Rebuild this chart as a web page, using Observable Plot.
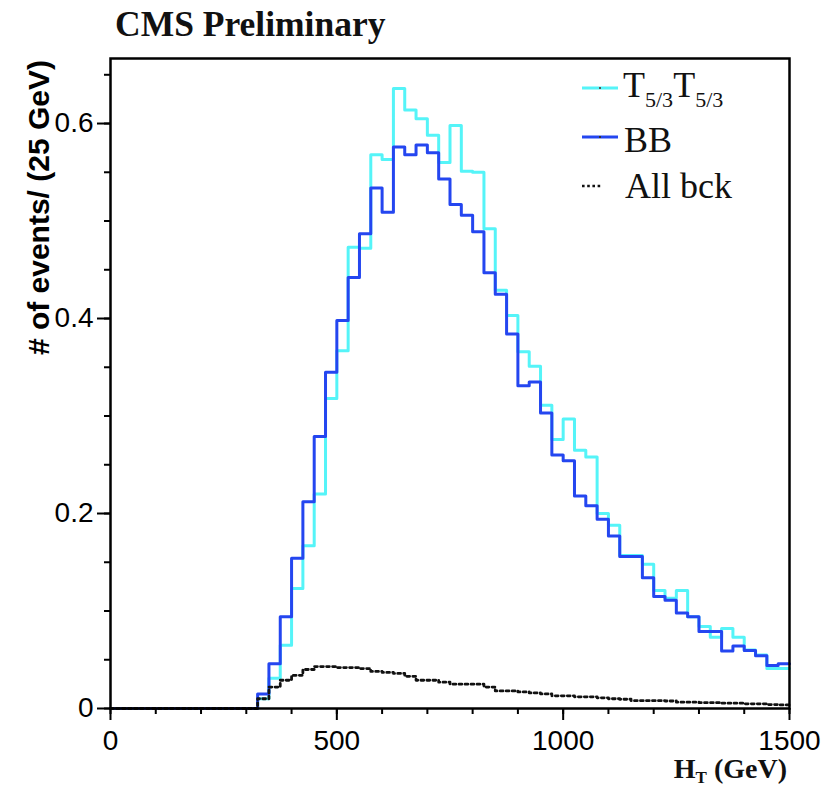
<!DOCTYPE html>
<html>
<head>
<meta charset="utf-8">
<script src="https://cdn.jsdelivr.net/npm/d3@7"></script>
<script src="https://cdn.jsdelivr.net/npm/@observablehq/plot@0.6"></script>
<style>
  html, body { margin: 0; padding: 0; background: #fff; }
  #chart svg { display: block; }
</style>
</head>
<body>
<div id="chart"></div>
<script>
// ---- data (HT histograms, 25 GeV bins from 0 to 1500 GeV) ----
const binLow = d3.range(0, 1500, 25);
const xMax = 1500;

const t53 = [
  0,0,0,0,0,0,0,0,0,0,0,0,0,
  0.010, 0.031, 0.065, 0.123, 0.167, 0.220, 0.318, 0.367, 0.473, 0.472,
  0.568, 0.563, 0.636, 0.614, 0.605, 0.588, 0.560, 0.598, 0.551, 0.550,
  0.492, 0.429, 0.403, 0.366, 0.351, 0.311, 0.276, 0.297, 0.265, 0.258,
  0.200, 0.188, 0.157, 0.157, 0.148, 0.121, 0.113, 0.121, 0.094, 0.084,
  0.073, 0.082, 0.073, 0.060, 0.055, 0.041, 0.041
];
const bb = [
  0,0,0,0,0,0,0,0,0,0,0,0,0,
  0.015, 0.046, 0.094, 0.154, 0.212, 0.279, 0.345, 0.398, 0.442, 0.487,
  0.534, 0.509, 0.576, 0.568, 0.578, 0.570, 0.543, 0.517, 0.506, 0.489,
  0.447, 0.425, 0.384, 0.331, 0.335, 0.303, 0.260, 0.254, 0.218, 0.208,
  0.194, 0.177, 0.156, 0.156, 0.134, 0.115, 0.111, 0.098, 0.094, 0.079,
  0.079, 0.059, 0.064, 0.0595, 0.054, 0.044, 0.046
];
const bck = [
  0,0,0,0,0,0,0,0,0,0,0,0,0,
  0.010, 0.022, 0.029, 0.034, 0.040, 0.043, 0.043, 0.042, 0.042, 0.041,
  0.038, 0.037, 0.036, 0.033, 0.029, 0.029, 0.027, 0.025, 0.025, 0.025,
  0.022, 0.018, 0.018, 0.017, 0.016, 0.015, 0.013, 0.013, 0.012, 0.012,
  0.011, 0.010, 0.0095, 0.008, 0.008, 0.008, 0.0077, 0.0065, 0.0065, 0.006,
  0.006, 0.0055, 0.0055, 0.0048, 0.0048, 0.004, 0.0037
];

const xMajor = [0, 500, 1000, 1500];
const xMinor = [0, 100, 200, 300, 400, 500, 600, 700, 800, 900, 1000, 1100, 1200, 1300, 1400, 1500];
const yMajor = [0, 0.2, 0.4, 0.6];
const yMinor = [0, 0.05, 0.1, 0.15, 0.2, 0.25, 0.3, 0.35, 0.4, 0.45, 0.5, 0.55, 0.6, 0.65];

const cyan = "#55f4f8";
const blue = "#2446f0";

function steps(vals) {
  const pts = binLow.map((x, i) => ({x, y: vals[i]}));
  pts.push({x: xMax, y: vals[vals.length - 1]});
  return pts;
}

const plot = Plot.plot({
  width: 836,
  height: 789,
  marginLeft: 110,
  marginRight: 47,
  marginTop: 58,
  marginBottom: 81,
  style: {fontFamily: "'Liberation Sans', Arial, sans-serif", fontSize: "28px", background: "#fff", color: "#000", overflow: "visible"},
  x: {domain: [0, xMax]},
  y: {domain: [0, 0.6667]},
  marks: [
    Plot.line(steps(t53), {x: "x", y: "y", curve: "step-after", stroke: cyan, strokeWidth: 3}),
    Plot.line(steps(bb), {x: "x", y: "y", curve: "step-after", stroke: blue, strokeWidth: 3}),
    Plot.line(steps(bck), {x: "x", y: "y", curve: "step-after", stroke: "#111", strokeWidth: 2.8, strokeDasharray: "2.8,3.2"}),
    Plot.axisX({ticks: xMinor, tickSize: 6, tickFormat: () => "", label: null, strokeWidth: 2}),
    Plot.axisX({ticks: xMajor, tickSize: 12, tickPadding: 10, tickFormat: d => String(d), label: null, strokeWidth: 2}),
    Plot.axisY({ticks: yMinor, tickSize: 6, tickFormat: () => "", label: null, strokeWidth: 2}),
    Plot.axisY({ticks: yMajor, tickSize: 13, tickPadding: 4, tickFormat: d => d === 0 ? "0" : d.toFixed(1), label: null, strokeWidth: 2}),
    Plot.frame({stroke: "#000", strokeWidth: 2.5})
  ]
});

document.getElementById("chart").appendChild(plot);
const svg = d3.select(plot);
const serif = "'Liberation Serif', 'Times New Roman', serif";

// Title
svg.append("text")
  .attr("x", 115).attr("y", 36)
  .attr("text-anchor", "start")
  .attr("font-family", serif)
  .attr("font-weight", "bold").attr("font-size", 35.5)
  .attr("fill", "#111")
  .text("CMS Preliminary");

// Y axis label
svg.append("text")
  .attr("transform", "translate(49,60) rotate(-90)")
  .attr("text-anchor", "end")
  .attr("font-family", "'Liberation Sans', Arial, sans-serif")
  .attr("font-weight", "bold").attr("font-size", 30)
  .attr("fill", "#000")
  .text("# of events/ (25 GeV)");

// X axis label
const xl = svg.append("text")
  .attr("x", 787).attr("y", 778)
  .attr("text-anchor", "end")
  .attr("font-family", serif)
  .attr("font-weight", "bold").attr("font-size", 28)
  .attr("fill", "#111");
xl.append("tspan").text("H");
xl.append("tspan").attr("font-size", 17).attr("dy", 5).text("T");
xl.append("tspan").attr("dy", -5).text(" (GeV)");

// Legend
const lg = svg.append("g").attr("text-anchor", "start");
lg.append("line").attr("x1", 582).attr("x2", 618).attr("y1", 88).attr("y2", 88)
  .attr("stroke", cyan).attr("stroke-width", 3);
lg.append("rect").attr("x", 599).attr("y", 87).attr("width", 2).attr("height", 2).attr("fill", "#555");
const t1 = lg.append("text").attr("x", 623).attr("y", 97)
  .attr("text-anchor", "start")
  .attr("font-family", serif).attr("font-size", 36).attr("fill", "#111");
t1.append("tspan").text("T");
t1.append("tspan").attr("font-size", 22).attr("dy", 10).text("5/3");
t1.append("tspan").attr("dy", -10).text("T");
t1.append("tspan").attr("font-size", 22).attr("dy", 10).text("5/3");

lg.append("line").attr("x1", 582).attr("x2", 618).attr("y1", 137).attr("y2", 137)
  .attr("stroke", blue).attr("stroke-width", 3);
lg.append("rect").attr("x", 599).attr("y", 136).attr("width", 2).attr("height", 2).attr("fill", "#333");
lg.append("text").attr("x", 624).attr("y", 152)
  .attr("text-anchor", "start")
  .attr("font-family", serif).attr("font-size", 36).attr("fill", "#111").text("BB");

lg.append("line").attr("x1", 582).attr("x2", 601).attr("y1", 186).attr("y2", 186)
  .attr("stroke", "#111").attr("stroke-width", 2.6).attr("stroke-dasharray", "2.6,2.6");
lg.append("text").attr("x", 625).attr("y", 198)
  .attr("text-anchor", "start")
  .attr("font-family", serif).attr("font-size", 36).attr("fill", "#111").text("All bck");
</script>
</body>
</html>
